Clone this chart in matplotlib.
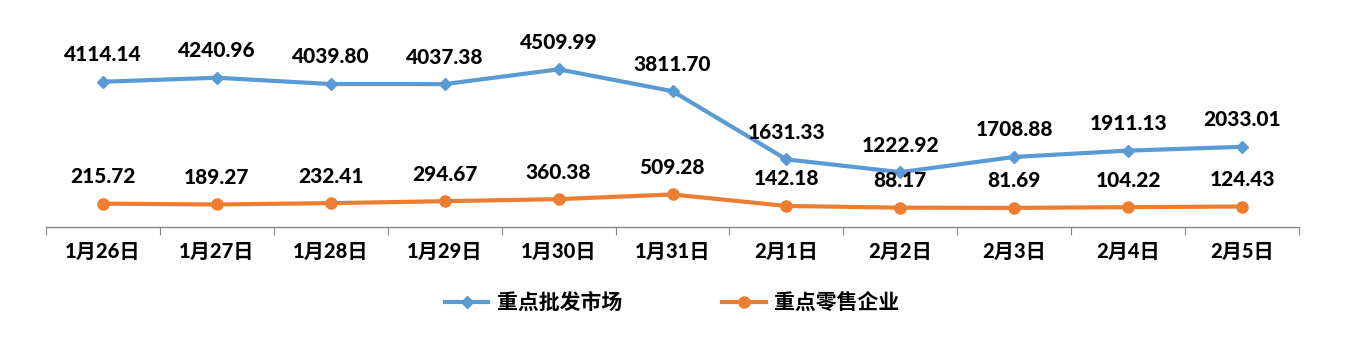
import matplotlib.pyplot as plt
from matplotlib.lines import Line2D

plt.rcParams['font.family'] = ['Lato', 'Noto Sans CJK SC', 'DejaVu Sans']

dates = ["1月26日", "1月27日", "1月28日", "1月29日", "1月30日", "1月31日",
         "2月1日", "2月2日", "2月3日", "2月4日", "2月5日"]
wholesale = [4114.14, 4240.96, 4039.80, 4037.38, 4509.99, 3811.70,
             1631.33, 1222.92, 1708.88, 1911.13, 2033.01]
retail = [215.72, 189.27, 232.41, 294.67, 360.38, 509.28,
          142.18, 88.17, 81.69, 104.22, 124.43]
series_names = ["重点批发市场", "重点零售企业"]

blue = "#5B9BD5"
orange = "#ED7D31"

fig = plt.figure(figsize=(13.52, 3.39), dpi=100)
ax = fig.add_axes([46 / 1352, 112 / 339, 1253 / 1352, 173 / 339])

x = list(range(len(dates)))
ax.plot(x, wholesale, color=blue, lw=3, marker="D", ms=6, zorder=3)
ax.plot(x, retail, color=orange, lw=3, marker="o", ms=8, zorder=3)

for xi, v in zip(x, wholesale):
    ax.annotate(f"{v:.2f}", (xi, v), xytext=(0, 19.5), textcoords="offset points",
                ha="center", va="center", fontsize=15, fontweight="black")
for xi, v in zip(x, retail):
    ax.annotate(f"{v:.2f}", (xi, v), xytext=(0, 19.5), textcoords="offset points",
                ha="center", va="center", fontsize=15, fontweight="black")

ax.set_xlim(-0.5, len(dates) - 0.5)
ax.set_ylim(-530, 5000)
ax.set_yticks([])
for s in ["top", "right", "left"]:
    ax.spines[s].set_visible(False)
ax.spines["bottom"].set_color("#888888")
ax.spines["bottom"].set_linewidth(1)

ax.set_xticks([i - 0.5 for i in range(len(dates) + 1)], minor=False)
ax.set_xticklabels([])
ax.tick_params(axis="x", which="major", length=6, color="#888888", direction="out")
ax.set_xticks(x, minor=True)
ax.set_xticklabels(dates, minor=True, fontsize=14.5, fontweight="black")
ax.tick_params(axis="x", which="minor", length=0, pad=11)

handles = [Line2D([], [], color=blue, lw=3, marker="D", ms=6),
           Line2D([], [], color=orange, lw=3, marker="o", ms=8)]
fig.legend(handles, series_names, loc="center", bbox_to_anchor=(672 / 1352, 1 - 303 / 339),
           ncol=2, frameon=False, prop={"size": 15, "weight": "bold"},
           handlelength=2.1, columnspacing=4.8, handletextpad=0.4)

fig.savefig("out.png", dpi=100)
